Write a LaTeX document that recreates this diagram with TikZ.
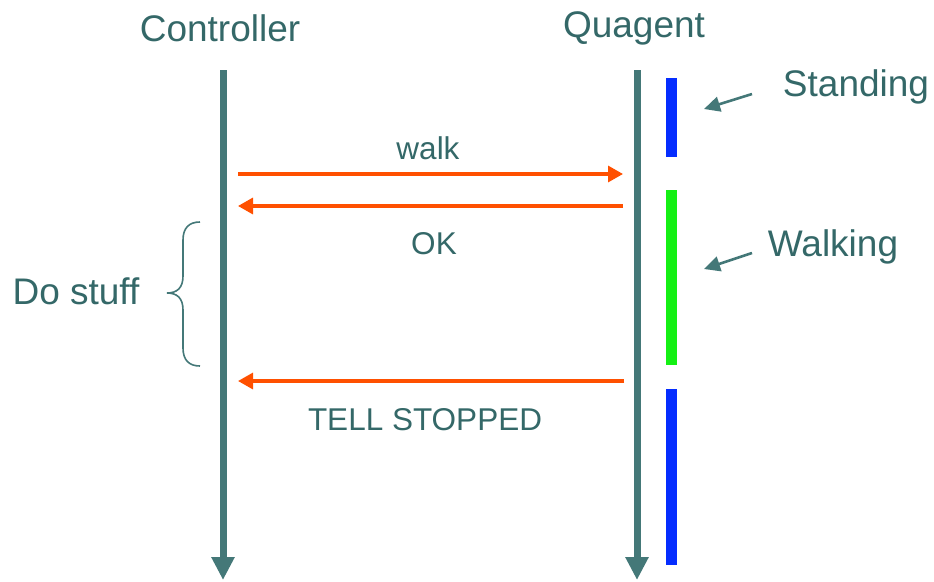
\documentclass[tikz,border=0pt]{standalone}
\usepackage{fontspec}
\setmainfont{Liberation Sans}
\usetikzlibrary{arrows.meta}
\definecolor{teal1}{RGB}{68,120,120}
\definecolor{tealtext}{RGB}{52,104,104}
\definecolor{msgorange}{RGB}{255,80,0}
\definecolor{stblue}{RGB}{5,45,255}
\definecolor{stgreen}{RGB}{20,240,20}
\tikzset{
  lifeline/.style={draw=teal1, line width=7pt, -{Triangle[width=22pt,length=23pt]}},
  msg/.style={draw=msgorange, line width=3.2pt, -{Triangle[width=16pt,length=15pt]}},
  statebar/.style={line width=11pt},
  bigtext/.style={text=tealtext, font=\fontsize{37}{44}\selectfont, anchor=base, inner sep=0pt},
  msgtext/.style={text=tealtext, font=\fontsize{31.5}{38}\selectfont, anchor=base, inner sep=0pt},
  pointer/.style={draw=teal1, line width=2.6pt, -{Triangle[width=15pt,length=16pt]}},
  bracestyle/.style={draw=teal1, line width=1.6pt}
}
\begin{document}
\begin{tikzpicture}[x=1pt,y=-1pt]
\useasboundingbox (0,0) rectangle (934,581);
% titles
\node[bigtext] (ctrl) at (220,41) {Controller};
\node[bigtext] (quag) at (634,37) {Quagent};
% lifelines
\coordinate (ctop) at (223,70);
\coordinate (cbot) at (223,580);
\coordinate (qtop) at (637,70);
\coordinate (qbot) at (637,580);
\draw[lifeline] (ctop) -- (cbot);
\draw[lifeline] (qtop) -- (qbot);
% state bars
\coordinate (s1a) at (671.5,78);  \coordinate (s1b) at (671.5,157);
\coordinate (s2a) at (671.5,190); \coordinate (s2b) at (671.5,365);
\coordinate (s3a) at (671.5,389); \coordinate (s3b) at (671.5,565);
\draw[statebar, stblue] (s1a) -- (s1b);
\draw[statebar, stgreen] (s2a) -- (s2b);
\draw[statebar, stblue] (s3a) -- (s3b);
% messages
\coordinate (m1a) at (238,174); \coordinate (m1b) at (623,174);
\coordinate (m2a) at (623,206); \coordinate (m2b) at (238,206);
\coordinate (m3a) at (624,381); \coordinate (m3b) at (238,381);
\draw[msg] (m1a) -- (m1b);
\draw[msg] (m2a) -- (m2b);
\draw[msg] (m3a) -- (m3b);
\node[msgtext] (walk) at (428,159) {walk};
\node[msgtext] (ok) at (434,254) {OK};
\node[msgtext] (tell) at (425,430) {TELL STOPPED};
% state labels
\node[bigtext] (standing) at (856,96) {Standing};
\node[bigtext] (walking) at (833,256) {Walking};
\coordinate (p1a) at (752,94);  \coordinate (p1b) at (704,109);
\coordinate (p2a) at (752,253); \coordinate (p2b) at (704,269);
\draw[pointer] (p1a) -- (p1b);
\draw[pointer] (p2a) -- (p2b);
% brace
\draw[bracestyle] (200,222) .. controls (189,222) and (183,228) .. (183,240) -- (183,276)
  .. controls (183,288) and (177,293) .. (167,293)
  .. controls (177,293) and (183,298) .. (183,310) -- (183,348)
  .. controls (183,360) and (189,366) .. (200,366);
\node[bigtext] (dostuff) at (76,304) {Do stuff};
\end{tikzpicture}
\end{document}
